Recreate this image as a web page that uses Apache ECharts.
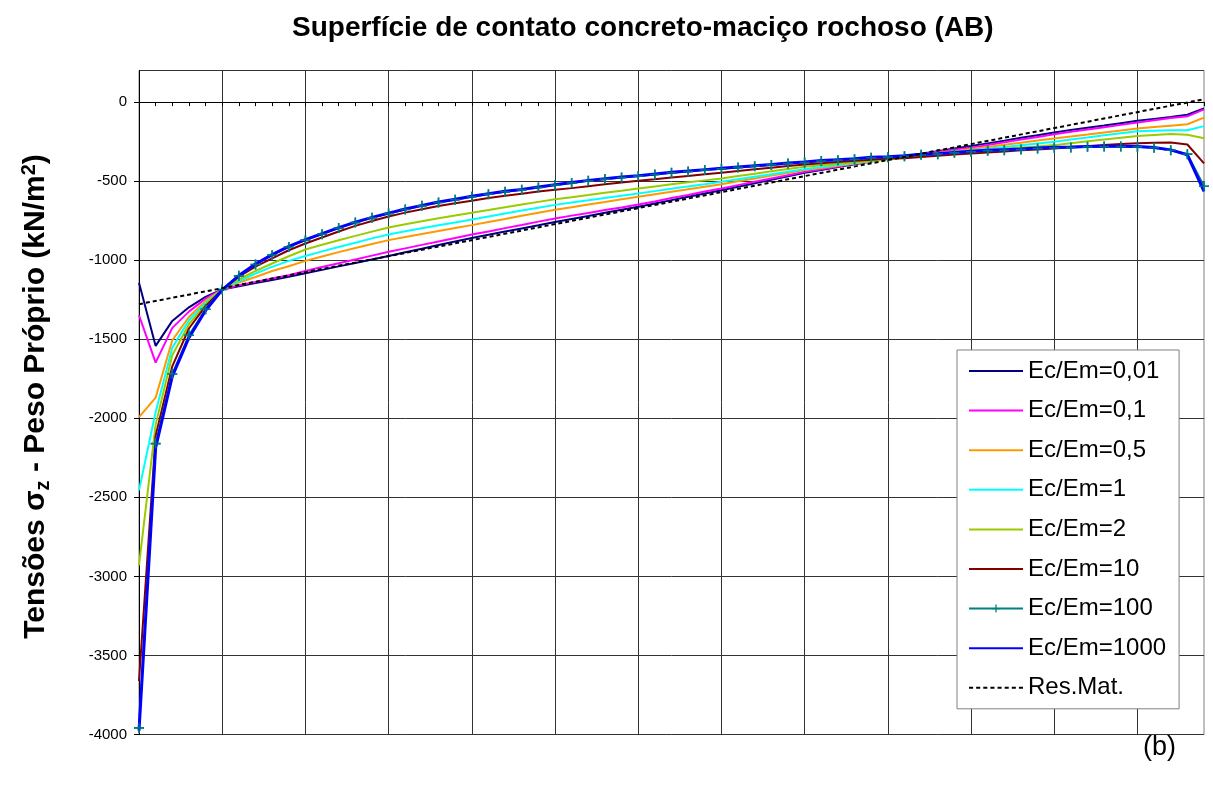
<!DOCTYPE html>
<html>
<head>
<meta charset="utf-8">
<script src="https://cdn.jsdelivr.net/npm/echarts@6/dist/echarts.min.js"></script>
<style>
html,body{margin:0;padding:0;background:#fff;}
#chart{width:1213px;height:791px;}
</style>
</head>
<body>
<div id="chart"></div>
<script>
// x categories: node index along the contact surface (65 nodes)
const categories = Array.from({length: 65}, (_, i) => String(i + 1));

const yTicks = [-4000, -3500, -3000, -2500, -2000, -1500, -1000, -500, 0];

const ec001 = [-1143,-1542,-1384,-1298,-1232,-1185,-1165,-1145,-1125,-1104,-1082,
  -1061,-1039,-1017,-995,-973,-950,-927,-904,-881,-859,-839,-819,-799,-779,-758,
  -739,-720,-700,-681,-662,-641,-620,-599,-578,-557,-535,-513,-491,-469,-447,-429,-411,-393,-375,-357,
  -342,-326,-310,-294,-278,-261,-244,-226,-209,-192,-177,-162,-148,-133,-118,-106,-94,-80,-40];

const ec01 = [-1348,-1648,-1428,-1325,-1243,-1185,-1158,-1137,-1116,-1095,-1068,
  -1043,-1019,-995,-971,-947,-925,-903,-881,-860,-838,-818,-797,-777,-756,-736,
  -718,-701,-683,-666,-648,-628,-607,-587,-566,-546,-525,-504,-483,-462,-441,-424,-407,-390,-372,-355,
  -341,-328,-314,-301,-288,-271,-254,-237,-220,-203,-188,-173,-159,-144,-129,-115,-101,-90,-46];

const ec05 = [-1992,-1869,-1506,-1359,-1257,-1185,-1141,-1106,-1068,-1038,-1004,
  -976,-949,-923,-898,-873,-853,-834,-815,-796,-778,-758,-739,-719,-700,-681,
  -665,-648,-632,-615,-599,-583,-567,-551,-535,-519,-501,-483,-465,-448,-430,-416,-402,-388,-374,-360,
  -348,-335,-322,-310,-297,-284,-270,-257,-243,-230,-217,-205,-192,-180,-167,-158,-149,-140,-98];

const ec1 = [-2456,-1960,-1553,-1380,-1268,-1185,-1133,-1084,-1042,-1004,-973,
  -944,-916,-889,-862,-837,-817,-798,-779,-761,-743,-724,-705,-686,-668,-650,
  -635,-621,-606,-592,-578,-563,-548,-533,-519,-504,-488,-472,-456,-440,-424,-411,-398,-385,-373,-360,
  -349,-338,-327,-316,-306,-295,-284,-273,-262,-251,-237,-224,-210,-197,-184,-181,-178,-178,-152];

const ec2 = [-2930,-2040,-1601,-1405,-1279,-1185,-1122,-1068,-1021,-975,-932,
  -902,-874,-846,-819,-793,-773,-754,-735,-717,-700,-683,-665,-648,-631,-615,
  -602,-588,-573,-560,-546,-533,-520,-507,-495,-483,-468,-453,-438,-423,-409,-400,-390,-381,-372,-363,
  -352,-342,-331,-321,-312,-303,-295,-287,-280,-272,-260,-248,-237,-226,-215,-208,-202,-207,-228];

const ec10 = [-3662,-2110,-1671,-1432,-1291,-1185,-1104,-1040,-988,-937,-894,
  -856,-818,-783,-752,-724,-699,-677,-657,-640,-624,-607,-592,-579,-566,-555,
  -544,-532,-520,-509,-498,-488,-477,-467,-457,-447,-436,-425,-415,-404,-394,-386,-378,-371,-364,-357,
  -355,-347,-340,-332,-325,-318,-312,-305,-299,-293,-286,-279,-272,-265,-260,-257,-256,-268,-388];

const ec100 = [-3958,-2160,-1720,-1475,-1310,-1185,-1099,-1027,-968,-916,-873,
  -835,-797,-762,-732,-705,-679,-656,-635,-618,-599,-582,-567,-555,-540,-525,
  -511,-498,-487,-477,-468,-458,-447,-439,-430,-422,-413,-405,-397,-388,-382,-373,-367,-361,-352,-348,
  -342,-333,-329,-321,-314,-308,-304,-300,-293,-289,-287,-283,-281,-281,-283,-289,-304,-329,-532];

const ec1000 = [-3975,-2185,-1735,-1490,-1318,-1187,-1097,-1024,-965,-913,-870,
  -832,-794,-759,-729,-702,-676,-653,-632,-615,-596,-579,-564,-552,-537,-522,
  -508,-495,-484,-474,-465,-455,-444,-436,-427,-419,-410,-402,-394,-385,-379,-370,-364,-358,-349,-345,
  -339,-330,-326,-318,-311,-305,-301,-297,-290,-286,-284,-281,-279,-279,-281,-287,-302,-333,-565];

// Res.Mat. straight line: [node index, value] at both ends
const resMat = [[0, -1278], [64, 18]];

const seriesNames = ['Ec/Em=0,01','Ec/Em=0,1','Ec/Em=0,5','Ec/Em=1','Ec/Em=2','Ec/Em=10','Ec/Em=100','Ec/Em=1000','Res.Mat.'];
const seriesColors = ['#000080','#FF00FF','#FF9900','#00FFFF','#99CC00','#800000','#008080','#0000FF','#000000'];
const seriesData = [ec001, ec01, ec05, ec1, ec2, ec10, ec100, ec1000, resMat];

const FONT = 'Liberation Sans, Arial, sans-serif';
const plus = 'path://M4.2,0 L5.8,0 L5.8,4.2 L10,4.2 L10,5.8 L5.8,5.8 L5.8,10 L4.2,10 L4.2,5.8 L0,5.8 L0,4.2 L4.2,4.2 Z';
const lineIcon = 'path://M0,0 L54,0 L54,2 L0,2 Z';
const dashIcon = 'path://M0,0 H4 V2 H0 Z M7,0 H11 V2 H7 Z M14,0 H18 V2 H14 Z M21,0 H25 V2 H21 Z M28,0 H32 V2 H28 Z M35,0 H39 V2 H35 Z M42,0 H46 V2 H42 Z M49,0 H53 V2 H49 Z';

const series = seriesData.map((d, i) => {
  const s = {
    name: seriesNames[i],
    type: 'line',
    data: d,
    symbol: 'none',
    animation: false,
    z: 2,
    lineStyle: {color: seriesColors[i], width: 2},
    itemStyle: {color: seriesColors[i]}
  };
  if (i === 6) {
    s.symbol = plus;
    s.symbolSize = 10;
    s.showSymbol = true;
  }
  if (i === 7) {
    s.lineStyle.width = 3;
    s.z = 3;
  }
  if (i === 8) {
    s.lineStyle.type = [4, 3];
    s.z = 5;
  }
  return s;
});
// Ec/Em=100 markers drawn again above the Ec/Em=1000 line
series.push({
  name: seriesNames[6], type: 'scatter', data: ec100, symbol: plus, symbolSize: 10,
  itemStyle: {color: seriesColors[6]}, z: 4, animation: false, silent: true
});

const legendData = seriesNames.map((n, i) => {
  if (i === 6) return {name: n};
  return {name: n, icon: i === 8 ? dashIcon : lineIcon};
});

const chart = echarts.init(document.getElementById('chart'), null, {renderer: 'canvas'});
chart.setOption({
  backgroundColor: '#fff',
  animation: false,
  title: {
    text: 'Superfície de contato concreto-maciço rochoso (AB)',
    left: 292, top: 14, padding: 0,
    textStyle: {fontFamily: FONT, fontSize: 28, fontWeight: 'bold', color: '#000'}
  },
  grid: {left: 139, right: 9, top: 70.5, bottom: 56.5, show: true, borderColor: '#808080', borderWidth: 1},
  legend: {
    orient: 'vertical',
    left: 957, top: 350,
    padding: [9, 13, 9, 11],
    itemWidth: 54, itemHeight: 10, itemGap: 15.6,
    backgroundColor: '#fff', borderColor: '#808080', borderWidth: 1,
    textStyle: {fontFamily: FONT, fontSize: 24, color: '#000'},
    data: legendData
  },
  xAxis: {
    type: 'category', data: categories, boundaryGap: false,
    axisLine: {onZero: true, lineStyle: {color: '#000', width: 1}},
    axisTick: {show: true, interval: 0, length: 4, lineStyle: {color: '#000'}},
    axisLabel: {show: false},
    splitLine: {show: true, interval: 4, lineStyle: {color: '#333', width: 1}}
  },
  yAxis: {
    type: 'value', min: yTicks[0], max: 200, interval: 500,
    name: '{a|Tensões σ}{s|z}{a| - Peso Próprio (kN/m}{p|2}{a|)}',
    nameLocation: 'middle', nameRotate: 90, nameGap: 86,
    nameTextStyle: {
      padding: [0, 0, 0, 12],
      rich: {
        a: {fontFamily: FONT, fontSize: 30, fontWeight: 'bold', color: '#000', lineHeight: 34, verticalAlign: 'middle'},
        s: {fontFamily: FONT, fontSize: 20, fontWeight: 'bold', color: '#000', lineHeight: 34, verticalAlign: 'bottom'},
        p: {fontFamily: FONT, fontSize: 20, fontWeight: 'bold', color: '#000', lineHeight: 34, verticalAlign: 'top'}
      }
    },
    axisLine: {show: true, lineStyle: {color: '#000', width: 1}},
    axisTick: {show: true, length: 5, lineStyle: {color: '#000'}},
    axisLabel: {fontFamily: FONT, fontSize: 15, color: '#000', margin: 12, showMaxLabel: false,
      formatter: v => String(v)},
    splitLine: {show: true, lineStyle: {color: '#333', width: 1}}
  },
  graphic: [{
    type: 'text', left: 1143, top: 734,
    style: {text: '(b)', fontFamily: FONT, fontSize: 27, fill: '#000'}
  }],
  series: series
});
</script>
</body>
</html>
